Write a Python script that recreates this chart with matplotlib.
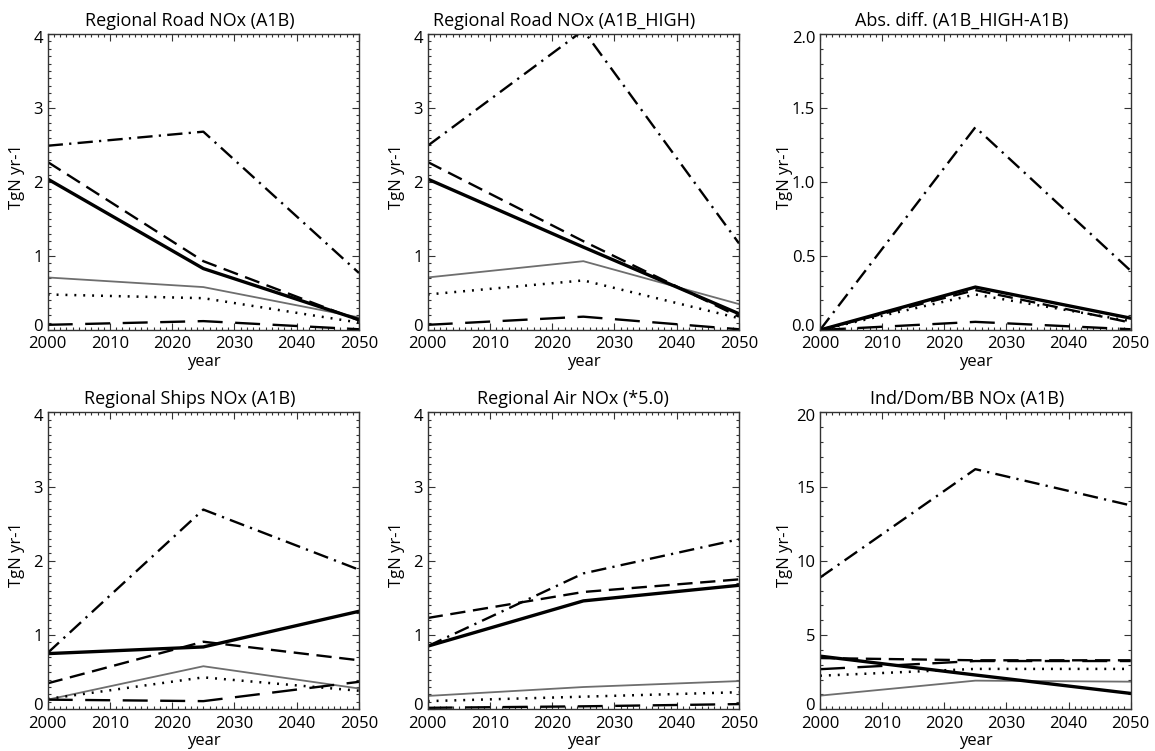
import matplotlib
matplotlib.use("Agg")
import matplotlib.pyplot as plt
from matplotlib.ticker import FixedLocator, MultipleLocator, FormatStrFormatter
from matplotlib.transforms import ScaledTranslation

plt.rcParams['font.family'] = ['Open Sans', 'DejaVu Sans']
plt.rcParams['lines.scale_dashes'] = False

# ---------------- data ----------------
years = [2000, 2025, 2050]

titles = ["Regional Road NOx (A1B)", "Regional Road NOx (A1B_HIGH)",
          "Abs. diff. (A1B_HIGH-A1B)", "Regional Ships NOx (A1B)",
          "Regional Air NOx (*5.0)", "Ind/Dom/BB NOx (A1B)"]

road_a1b_gray = [0.71, 0.58, 0.17]
road_a1b_longdash = [0.07, 0.12, 0.01]
road_a1b_dotted = [0.48, 0.43, 0.10]
road_a1b_dashed = [2.27, 0.93, 0.13]
road_a1b_dashdot = [2.49, 2.68, 0.77]
road_a1b_solid = [2.04, 0.83, 0.14]

road_high_gray = [0.71, 0.93, 0.35]
road_high_longdash = [0.07, 0.18, 0.01]
road_high_dotted = [0.48, 0.67, 0.16]
road_high_dashed = [2.27, 1.20, 0.18]
road_high_dashdot = [2.49, 4.05, 1.17]
road_high_solid = [2.04, 1.12, 0.22]

diff_longdash = [0.0, 0.055, 0.005]
diff_dotted = [0.0, 0.24, 0.06]
diff_dashed = [0.0, 0.27, 0.05]
diff_dashdot = [0.0, 1.37, 0.40]
diff_solid = [0.0, 0.29, 0.08]

ships_gray = [0.13, 0.58, 0.28]
ships_longdash = [0.13, 0.11, 0.37]
ships_dotted = [0.14, 0.43, 0.25]
ships_dashed = [0.35, 0.91, 0.66]
ships_dashdot = [0.76, 2.69, 1.88]
ships_solid = [0.75, 0.84, 1.32]

air_gray = [0.18, 0.30, 0.38]
air_longdash = [0.02, 0.04, 0.07]
air_dotted = [0.11, 0.17, 0.23]
air_dashed = [1.23, 1.58, 1.75]
air_dashdot = [0.85, 1.83, 2.29]
air_solid = [0.85, 1.46, 1.67]

ind_gray = [0.92, 1.93, 1.86]
ind_longdash = [2.70, 3.25, 3.25]
ind_dotted = [2.26, 2.72, 2.72]
ind_dashed = [3.45, 3.30, 3.30]
ind_dashdot = [8.87, 16.17, 13.73]
ind_solid = [3.58, 2.31, 1.07]

x_ticks = [2000, 2010, 2020, 2030, 2040, 2050]
y_ticks_road = [0, 1, 2, 3, 4]
y_ticks_diff = [0.0, 0.5, 1.0, 1.5, 2.0]
y_ticks_ind = [0, 5, 10, 15, 20]

panels = [
    dict(gray=road_a1b_gray, longdash=road_a1b_longdash, dotted=road_a1b_dotted,
         dashed=road_a1b_dashed, dashdot=road_a1b_dashdot, solid=road_a1b_solid),
    dict(gray=road_high_gray, longdash=road_high_longdash, dotted=road_high_dotted,
         dashed=road_high_dashed, dashdot=road_high_dashdot, solid=road_high_solid),
    dict(longdash=diff_longdash, dotted=diff_dotted, dashed=diff_dashed,
         dashdot=diff_dashdot, solid=diff_solid),
    dict(gray=ships_gray, longdash=ships_longdash, dotted=ships_dotted,
         dashed=ships_dashed, dashdot=ships_dashdot, solid=ships_solid),
    dict(gray=air_gray, longdash=air_longdash, dotted=air_dotted,
         dashed=air_dashed, dashdot=air_dashdot, solid=air_solid),
    dict(gray=ind_gray, longdash=ind_longdash, dotted=ind_dotted,
         dashed=ind_dashed, dashdot=ind_dashdot, solid=ind_solid),
]
yticks_list = [y_ticks_road, y_ticks_road, y_ticks_diff,
               y_ticks_road, y_ticks_road, y_ticks_ind]

# ---------------- styles / layout ----------------
styles = {
    'gray': dict(color='#6e6e6e', lw=1.3, ls='-'),
    'longdash': dict(color='black', lw=1.7, ls=(0, (18, 9))),
    'dotted': dict(color='black', lw=1.8, ls=(0, (1.4, 5))),
    'dashed': dict(color='black', lw=1.7, ls=(0, (11, 5.5))),
    'dashdot': dict(color='black', lw=1.7, ls=(0, (11, 4.5, 1.6, 4.5))),
    'solid': dict(color='black', lw=2.4, ls='-'),
}

W, H = 1155, 751
ax_px = [  # left, top, right, bottom in pixels
    (47.7, 34, 359, 330), (427.7, 34, 739, 330), (820, 34, 1130.7, 330),
    (47.7, 412.3, 359, 709.3), (427.7, 412.3, 739, 709.3), (820, 412.3, 1130.7, 709.3),
]
yminor = [0.1, 0.1, 0.1, 0.1, 0.1, 1]
yfmt = ['%d', '%d', '%.1f', '%d', '%d', '%d']
title_x = [0.457, 0.438, 0.456, 0.457, 0.467, 0.473]
ylabel_x = [-0.10, -0.10, -0.113, -0.10, -0.10, -0.113]

fig = plt.figure(figsize=(W / 100, H / 100), dpi=100)
axes = []
for i, data in enumerate(panels):
    l, t, r, b = ax_px[i]
    ax = fig.add_axes([l / W, 1 - b / H, (r - l) / W, (b - t) / H])
    axes.append(ax)
    for key in ['gray', 'longdash', 'dotted', 'dashed', 'dashdot', 'solid']:
        if key in data:
            st = styles[key]
            ax.plot(years, data[key], color=st['color'], lw=st['lw'],
                    linestyle=st['ls'], solid_joinstyle='miter')
    yt = yticks_list[i]
    ax.set_xlim(x_ticks[0], x_ticks[-1])
    ax.set_ylim(yt[0], yt[-1])
    ax.xaxis.set_major_locator(FixedLocator(x_ticks))
    ax.xaxis.set_minor_locator(MultipleLocator(1))
    ax.yaxis.set_major_locator(FixedLocator(yt))
    ax.yaxis.set_minor_locator(MultipleLocator(yminor[i]))
    ax.yaxis.set_major_formatter(FormatStrFormatter(yfmt[i]))
    ax.tick_params(which='both', direction='in', top=True, right=True,
                   width=0.8, color='#333333')
    ax.tick_params(which='major', length=5, labelsize=12)
    ax.tick_params(axis='x', which='major', pad=4.5)
    ax.tick_params(axis='y', which='major', pad=3.5)
    ax.tick_params(which='minor', length=2.5)
    for sp in ax.spines.values():
        sp.set_linewidth(1.0)
        sp.set_color('#333333')
    ax.set_title(titles[i], fontsize=13, x=title_x[i], y=1.0, pad=6)
    ax.set_xlabel('year', fontsize=12)
    ax.xaxis.label.set_va('center')
    ax.xaxis.set_label_coords(0.5, -(32.0 / (b - t)))
    ax.set_ylabel('TgN yr-1', fontsize=12)
    ax.yaxis.label.set_va('center')
    ax.yaxis.set_label_coords(ylabel_x[i], 0.52)

fig.canvas.draw()
for ax in axes:
    ticks = ax.yaxis.get_major_ticks()
    up = ScaledTranslation(0, 5 / 100, fig.dpi_scale_trans)
    down = ScaledTranslation(0, -2.7 / 100, fig.dpi_scale_trans)
    ticks[0].label1.set_transform(ticks[0].label1.get_transform() + up)
    ticks[-1].label1.set_transform(ticks[-1].label1.get_transform() + down)

fig.savefig('out.png', dpi=100)
